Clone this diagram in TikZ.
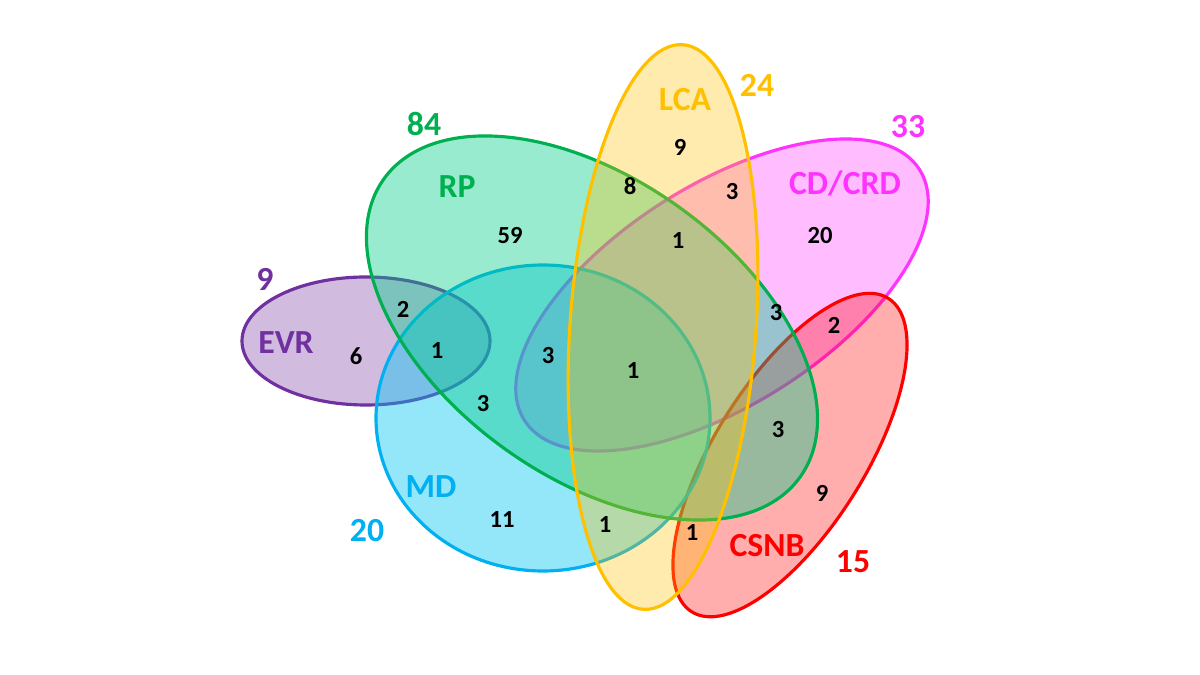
\documentclass[tikz,border=0pt]{standalone}
\usepackage{fontspec}
\setmainfont{Carlito}
\usepackage{xcolor}
\usepackage{tikz}
\usetikzlibrary{positioning}
\definecolor{evrpurple}{RGB}{112, 48, 160}
\definecolor{rpgreen}{RGB}{0, 176, 80}
\definecolor{rpfill}{RGB}{0, 204, 136}
\definecolor{mdblue}{RGB}{0, 176, 240}
\definecolor{mdfill}{RGB}{0, 196, 240}
\definecolor{lcayellow}{RGB}{255, 192, 0}
\definecolor{cdpink}{RGB}{255, 51, 255}
\definecolor{csnbred}{RGB}{255, 0, 0}
\tikzstyle{venn} = [
    line width=0.9pt,
    fill opacity=0.32
]
\tikzstyle{setname} = [
    font=\fontsize{9.6}{11}\selectfont\bfseries,
    inner sep=0pt
]
\tikzstyle{count} = [
    font=\fontsize{7}{9}\selectfont\bfseries,
    text=black,
    inner sep=0pt
]

\begin{document}
\begin{tikzpicture}[x=0.1mm, y=0.1mm]
        \useasboundingbox (0,0) rectangle (1200,675);
        % set centres
        \coordinate (cd) at (722,380);
        \coordinate (csnb) at (790,220);
        \coordinate (evr) at (366,334);
        \coordinate (md) at (543,257);
        \coordinate (rp) at (592,347);
        \coordinate (lca) at (663,348);

        \draw[venn, draw=cdpink, fill=cdpink, rotate around={32.4:(cd)}] (cd) ellipse [x radius=234, y radius=110];
        \draw[venn, draw=csnbred, fill=csnbred, rotate around={57.9:(csnb)}] (csnb) ellipse [x radius=185, y radius=75];
        \draw[venn, draw=evrpurple, fill=evrpurple] (evr) ellipse [x radius=124, y radius=64];
        \draw[venn, draw=mdblue, fill=mdfill, fill opacity=0.42] (md) ellipse [x radius=167, y radius=153];
        \draw[venn, draw=rpgreen, fill=rpfill, fill opacity=0.4, rotate around={-35.6:(rp)}] (rp) ellipse [x radius=256, y radius=149];
        \draw[venn, draw=lcayellow, fill=lcayellow, rotate around={-4:(lca)}] (lca) ellipse [x radius=93, y radius=283];

        % set names and totals
        \node[setname, text=rpgreen] (rpname) at (457,488) {RP};
        \node[setname, text=rpgreen] (rptotal) at (424,551) {84};
        \node[setname, text=evrpurple] (evrname) at (286,332) {EVR};
        \node[setname, text=evrpurple] (evrtotal) at (265,396) {9};
        \node[setname, text=lcayellow] (lcaname) at (685,575) {LCA};
        \node[setname, text=lcayellow] (lcatotal) at (757,590) {24};
        \node[setname, text=cdpink] (cdname) at (845,492) {CD/CRD};
        \node[setname, text=cdpink] (cdtotal) at (908,548) {33};
        \node[setname, text=mdblue] (mdname) at (431,188) {MD};
        \node[setname, text=mdblue] (mdtotal) at (367,144) {20};
        \node[setname, text=csnbred] (csnbname) at (767,129) {CSNB};
        \node[setname, text=csnbred] (csnbtotal) at (853,113) {15};

        % region counts
        \node[count] (lcaonly) at (680,528) {9};
        \node[count] (rplca) at (630,489) {8};
        \node[count] (lcacd) at (732,483) {3};
        \node[count] (rponly) at (510,439) {59};
        \node[count] (rplcacd) at (678,434) {1};
        \node[count] (cdonly) at (820,439) {20};
        \node[count] (evrrp) at (403,366) {2};
        \node[count] (evrrpmd) at (437,324) {1};
        \node[count] (evronly) at (356,319) {6};
        \node[count] (rpmdcd) at (548,319) {3};
        \node[count] (rpmdlcacd) at (633,304) {1};
        \node[count] (rpcd) at (776,362) {3};
        \node[count] (cdcsnb) at (834,350) {2};
        \node[count] (rpmd) at (483,271) {3};
        \node[count] (rpcsnb) at (778,245) {3};
        \node[count] (csnbonly) at (822,182) {9};
        \node[count] (mdonly) at (502,155) {11};
        \node[count] (mdlca) at (605,150) {1};
        \node[count] (lcacsnb) at (692,142) {1};
    \end{tikzpicture}
\end{document}
